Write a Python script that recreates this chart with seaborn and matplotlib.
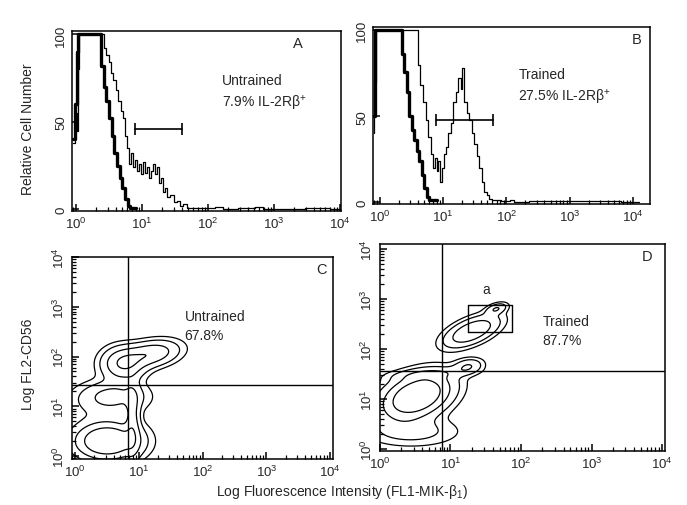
import numpy as np
import pandas as pd
import seaborn as sns
import matplotlib.pyplot as plt
from matplotlib.ticker import LogLocator, NullFormatter

###########################################################################
# data (x values are log10 of fluorescence intensity)

# panel A (untrained) histograms
a_thin_log = [-0.04, 0.0, 0.02, 0.04, 0.06, 0.40, 0.44, 0.48, 0.52, 0.55, 0.58, 0.62,
              0.66, 0.70, 0.73, 0.76, 0.79, 0.82, 0.85, 0.88, 0.91, 0.94, 0.97, 1.00,
              1.03, 1.06, 1.09, 1.12, 1.15, 1.18, 1.21, 1.24, 1.27, 1.30, 1.33, 1.36,
              1.40, 1.45, 1.50, 1.55, 1.60, 1.65, 1.70, 1.80, 2.00, 2.20, 2.25, 2.60,
              2.80, 2.85, 3.30, 3.60, 4.00]
a_thin_cnt = [38, 55, 45, 80, 100, 100, 92, 88, 84, 78, 74, 68,
              62, 56, 52, 42, 35, 26, 32, 24, 28, 22, 26, 20,
              27, 21, 24, 18, 22, 26, 20, 24, 15, 18, 10, 12,
              7, 8, 4, 5, 2, 3, 1, 0.5, 0.5, 1.5, 0.3, 0.5,
              1.5, 0.3, 0.3, 1, 0.3]
a_thick_log = [-0.04, 0.0, 0.02, 0.04, 0.36, 0.40, 0.44, 0.48, 0.52, 0.56, 0.60,
               0.64, 0.68, 0.72, 0.76, 0.80, 0.84, 0.90]
a_thick_cnt = [40, 60, 90, 100, 100, 82, 70, 62, 52, 42, 32,
               25, 18, 12, 6, 2, 0.5, 0.5]
a_gate_log = [0.89, 1.60]
a_gate_cnt = 46

# panel B (trained) histograms
b_thin_log = [-0.10, -0.08, -0.05, 0.58, 0.62, 0.66, 0.70, 0.74, 0.78, 0.82, 0.85,
              0.88, 0.91, 0.94, 0.97, 1.00, 1.03, 1.06, 1.10, 1.14, 1.18, 1.22, 1.26,
              1.29, 1.32, 1.35, 1.39, 1.43, 1.47, 1.51, 1.55, 1.59, 1.63, 1.67, 1.71,
              1.75, 1.80, 2.00, 2.10, 2.15, 2.50, 4.10]
b_thin_cnt = [40, 70, 100, 100, 80, 68, 58, 48, 38, 28, 20,
              26, 18, 24, 12, 20, 28, 32, 40, 46, 58, 64, 72,
              66, 78, 58, 52, 48, 40, 34, 27, 20, 12, 6, 4,
              2, 1, 0.5, 1.5, 0.3, 0.5, 0.3]
b_thick_log = [-0.10, -0.06, 0.32, 0.36, 0.40, 0.44, 0.48, 0.52, 0.56, 0.60,
               0.64, 0.68, 0.72, 0.76, 0.80, 0.90]
b_thick_cnt = [50, 100, 100, 86, 76, 64, 50, 42, 36, 30,
               24, 16, 8, 3, 1, 1]
b_gate_log = [0.89, 1.79]
b_gate_cnt = 48

# panel C / D contour clusters: centre (log x, log y), spread, tilt, weight
c_cx = [0.50, 0.90, 0.60, 0.75, 1.18, 0.35]
c_cy = [0.30, 0.70, 1.20, 1.85, 2.05, 1.00]
c_sx = [0.30, 0.07, 0.30, 0.20, 0.27, 0.35]
c_sy = [0.22, 0.45, 0.18, 0.20, 0.15, 0.25]
c_ang = [0, 0, 0, 0, 15, 0]
c_w = [1.0, 0.3, 0.3, 0.5, 0.45, 0.08]
c_quad = (0.83, 1.42)

d_cx = [0.52, 0.45, 1.25, 1.30, 1.65, 0.70]
d_cy = [1.05, 0.35, 1.65, 2.35, 2.80, 1.50]
d_sx = [0.32, 0.40, 0.13, 0.26, 0.10, 0.35]
d_sy = [0.22, 0.18, 0.09, 0.13, 0.06, 0.07]
d_ang = [40, 0, 20, 35, 30, 5]
d_w = [1.0, 0.15, 0.25, 0.5, 0.25, 0.14]
d_quad = (0.88, 1.55)
d_box_log = (1.25, 1.87, 2.34, 2.88)

levels = [0.04, 0.1, 0.25, 0.5]


###########################################################################
# helper funcs


def density(cx, cy, sx, sy, ang, w):
    gx, gy = np.meshgrid(np.linspace(-0.2, 4.2, 300), np.linspace(-0.2, 4.2, 300))
    z = np.zeros_like(gx)
    for i in range(len(cx)):
        t = np.deg2rad(ang[i])
        dx, dy = gx - cx[i], gy - cy[i]
        u = dx * np.cos(t) + dy * np.sin(t)
        v = -dx * np.sin(t) + dy * np.cos(t)
        z += w[i] * np.exp(-0.5 * ((u / sx[i]) ** 2 + (v / sy[i]) ** 2))
    return 10 ** gx, 10 ** gy, z / z.max()


def log_minor(axis):
    axis.set_minor_locator(LogLocator(base=10, subs=np.arange(2, 10), numticks=20))
    axis.set_minor_formatter(NullFormatter())


def style_axes(ax, xl):
    ax.set_xscale('log')
    ax.set_xlim(10 ** xl[0], 10 ** xl[1])
    ax.set_xticks([1, 10, 100, 1000, 10000])
    log_minor(ax.xaxis)
    ax.set_xlabel('')
    ax.set_ylabel('')
    for s in ax.spines.values():
        s.set_linewidth(1.1)
        s.set_color('black')


def hist_panel(ax, thin_x, thin_y, thick_x, thick_y, gate_x, gate_y, xl):
    thin = pd.DataFrame({'x': np.power(10.0, thin_x), 'y': thin_y})
    thick = pd.DataFrame({'x': np.power(10.0, thick_x), 'y': thick_y})
    sns.lineplot(data=thin, x='x', y='y', sort=False, estimator=None, ax=ax,
                 color='black', lw=0.9, drawstyle='steps-mid')
    sns.lineplot(data=thick, x='x', y='y', sort=False, estimator=None, ax=ax,
                 color='black', lw=2.4, drawstyle='steps-mid')
    ax.plot(np.power(10.0, gate_x), [gate_y, gate_y], color='black', lw=1.2,
            marker='|', ms=8, mew=1.2)
    style_axes(ax, xl)
    ax.set_ylim(-1, 102)
    ax.set_yticks([0, 50, 100])


def contour_panel(ax, pars, quad, xl, yl):
    gx, gy, z = density(*pars)
    ax.contour(gx, gy, z, levels=levels, colors='black', linewidths=0.9)
    ax.set_yscale('log')
    style_axes(ax, xl)
    ax.set_ylim(10 ** yl[0], 10 ** yl[1])
    ax.set_yticks([1, 10, 100, 1000, 10000])
    log_minor(ax.yaxis)
    ax.axvline(10 ** quad[0], color='black', lw=1)
    ax.axhline(10 ** quad[1], color='black', lw=1)


def force_ticks(ax):
    # make the tick marks themselves visible, short and pointing inward
    ax.tick_params(axis='both', which='both', direction='in', labelsize=9.5,
                   color='black', bottom=True, left=True, top=False, right=False)
    ax.tick_params(axis='both', which='major', length=5, width=1.1)
    ax.tick_params(axis='both', which='minor', length=3, width=0.9)
    ax.tick_params(axis='y', labelrotation=90)
    for axis in [ax.xaxis, ax.yaxis]:
        for ticks, size, width in [(axis.get_major_ticks(), 5, 1.1),
                                   (axis.get_minor_ticks(), 3, 0.9)]:
            for t in ticks:
                t.tick1line.set_visible(True)
                t.tick1line.set_markersize(size)
                t.tick1line.set_markeredgewidth(width)
                t.tick1line.set_markeredgecolor('black')
                t.tick1line.set_color('black')
                t.tick1line.set_alpha(1)
                t.tick1line.set_zorder(5)
    for lab in ax.get_yticklabels():
        lab.set_va('center')


###########################################################################
# plotting

sns.set_style('ticks')
plt.rcParams['font.family'] = ['Liberation Sans', 'DejaVu Sans']
plt.rcParams['mathtext.fontset'] = 'custom'
plt.rcParams['mathtext.rm'] = 'Liberation Sans'

fig = plt.figure(figsize=(6.87, 5.06), dpi=100)
ax_a = fig.add_axes([0.105, 0.581, 0.392, 0.356])
ax_b = fig.add_axes([0.543, 0.595, 0.403, 0.350])
ax_c = fig.add_axes([0.105, 0.091, 0.380, 0.399])
ax_d = fig.add_axes([0.553, 0.107, 0.415, 0.409])

hist_panel(ax_a, a_thin_log, a_thin_cnt, a_thick_log, a_thick_cnt,
           a_gate_log, a_gate_cnt, (-0.06, 4.02))
hist_panel(ax_b, b_thin_log, b_thin_cnt, b_thick_log, b_thick_cnt,
           b_gate_log, b_gate_cnt, (-0.11, 4.27))
contour_panel(ax_c, (c_cx, c_cy, c_sx, c_sy, c_ang, c_w), c_quad,
              (-0.05, 4.05), (-0.06, 4.0))
contour_panel(ax_d, (d_cx, d_cy, d_sx, d_sy, d_ang, d_w), d_quad,
              (0.0, 4.04), (-0.04, 4.1))

# gate box "a" in panel D
bx = np.power(10.0, [d_box_log[0], d_box_log[1], d_box_log[1], d_box_log[0], d_box_log[0]])
by = np.power(10.0, [d_box_log[2], d_box_log[2], d_box_log[3], d_box_log[3], d_box_log[2]])
ax_d.plot(bx, by, color='black', lw=1)
ax_d.text(10 ** 1.5, 10 ** 3.2, 'a', ha='center', va='center', fontsize=10)

# panel letters and annotations
ax_a.text(0.82, 0.93, 'A', transform=ax_a.transAxes, fontsize=10.5, va='center')
ax_b.text(0.935, 0.93, 'B', transform=ax_b.transAxes, fontsize=10.5, va='center')
ax_c.text(0.935, 0.94, 'C', transform=ax_c.transAxes, fontsize=10.5, va='center')
ax_d.text(0.92, 0.94, 'D', transform=ax_d.transAxes, fontsize=10.5, va='center')

ax_a.text(0.555, 0.66, 'Untrained\n7.9% IL-2R\u03b2$^{+}$', transform=ax_a.transAxes,
          fontsize=10, va='center', linespacing=1.45)
ax_b.text(0.525, 0.665, 'Trained\n27.5% IL-2R\u03b2$^{+}$', transform=ax_b.transAxes,
          fontsize=10, va='center', linespacing=1.45)
ax_c.text(0.43, 0.66, 'Untrained\n67.8%', transform=ax_c.transAxes,
          fontsize=10, va='center', linespacing=1.45)
ax_d.text(0.57, 0.58, 'Trained\n87.7%', transform=ax_d.transAxes,
          fontsize=10, va='center', linespacing=1.45)

fig.text(0.041, 0.745, 'Relative Cell Number', rotation=90, ha='center',
         va='center', fontsize=10)
fig.text(0.041, 0.28, 'Log FL2-CD56', rotation=90, ha='center',
         va='center', fontsize=10)
fig.text(0.497, 0.027, 'Log Fluorescence Intensity (FL1-MIK-\u03b2$_{1}$)',
         ha='center', va='center', fontsize=10)

# draw once so every tick exists, then style the tick marks
fig.canvas.draw()
for ax in [ax_a, ax_b, ax_c, ax_d]:
    force_ticks(ax)

fig.savefig('out.png', dpi=100)
plt.close()
